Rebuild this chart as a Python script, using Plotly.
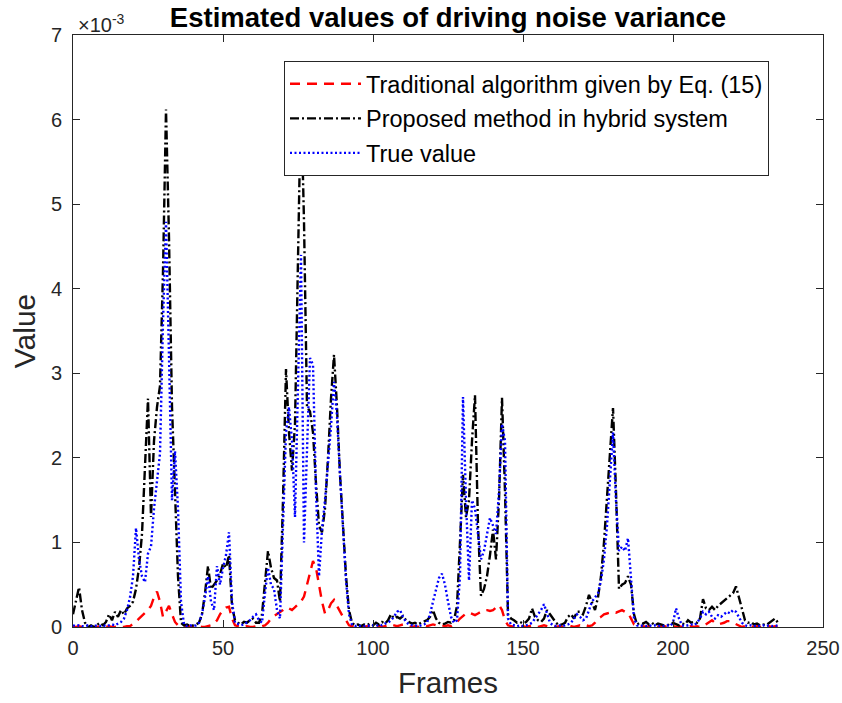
import plotly.graph_objects as go

# Values are in units of 1e-3 (axis shows x10^-3)
proposed = [0.15, 0.3, 0.47, 0.2, 0.05, 0.0, 0.02, 0.0, 0.03, 0.05,
            0.02, 0.06, 0.15, 0.08, 0.18, 0.12, 0.2, 0.15, 0.22, 0.25,
            0.3, 0.45, 0.7, 1.1, 1.9, 2.7, 1.3, 2.2, 2.6, 2.85,
            4.2, 6.12, 4.6, 2.6, 1.6, 0.6, 0.05, 0.02, 0.03, 0.01,
            0.02, 0.03, 0.05, 0.15, 0.4, 0.72, 0.45, 0.5, 0.55, 0.62,
            0.75, 0.7, 0.85, 0.25, 0.08, 0.05, 0.03, 0.06, 0.05, 0.08,
            0.1, 0.05, 0.05, 0.15, 0.55, 0.9, 0.7, 0.58, 0.55, 0.3,
            1.5, 3.05, 2.3, 1.85, 2.4, 4.6, 6.3, 4.8, 2.6, 2.55,
            2.3, 1.7, 1.2, 1.12, 1.4, 2.0, 2.7, 3.22, 2.6, 1.8,
            1.15, 0.6, 0.2, 0.05, 0.02, 0.03, 0.01, 0.03, 0.02, 0.04,
            0.02, 0.05, 0.03, 0.06, 0.04, 0.08, 0.15, 0.1, 0.12, 0.1,
            0.13, 0.08, 0.06, 0.04, 0.05, 0.03, 0.05, 0.07, 0.08, 0.12,
            0.2, 0.1, 0.05, 0.03, 0.04, 0.06, 0.05, 0.08, 0.25, 1.0,
            1.8, 1.3, 1.5, 2.2, 2.74, 1.2, 0.37, 0.45, 0.6, 0.85,
            1.15, 0.8, 1.5, 2.71, 1.6, 0.15, 0.1, 0.08, 0.05, 0.06,
            0.04, 0.06, 0.1, 0.22, 0.12, 0.08, 0.06, 0.1, 0.2, 0.15,
            0.1, 0.05, 0.02, 0.03, 0.05, 0.12, 0.15, 0.1, 0.18, 0.18,
            0.15, 0.25, 0.38, 0.3, 0.2, 0.35, 0.6, 1.0, 1.5, 2.0,
            2.59, 1.6, 0.45, 0.5, 0.52, 0.6, 0.5, 0.15, 0.03, 0.05,
            0.04, 0.06, 0.03, 0.05, 0.02, 0.04, 0.03, 0.02, 0.03, 0.02,
            0.05, 0.03, 0.02, 0.04, 0.03, 0.08, 0.05, 0.06, 0.05, 0.1,
            0.33, 0.22, 0.2, 0.24, 0.2, 0.25, 0.28, 0.3, 0.33, 0.36,
            0.4, 0.48, 0.35, 0.2, 0.08, 0.05, 0.06, 0.03, 0.04, 0.02,
            0.03, 0.02, 0.05, 0.08, 0.1, 0.05]

true_value = [0.02, 0.01, 0.02, 0.01, 0.01, 0.02, 0.01, 0.01, 0.02, 0.01,
              0.02, 0.01, 0.02, 0.03, 0.02, 0.04, 0.06, 0.1, 0.2, 0.35,
              0.6, 1.17, 0.8, 0.6, 0.53, 0.87, 0.95, 1.4, 1.7, 2.05,
              3.6, 4.79, 3.2, 1.5, 2.08, 1.4, 0.3, 0.03, 0.01, 0.02,
              0.01, 0.02, 0.05, 0.15, 0.35, 0.6, 0.3, 0.2, 0.72, 0.5,
              0.7, 0.85, 1.12, 0.3, 0.05, 0.03, 0.02, 0.03, 0.05, 0.08,
              0.12, 0.15, 0.08, 0.05, 0.4, 0.7, 0.5, 0.45, 0.2, 0.1,
              1.2, 2.3, 2.6, 2.2, 1.3, 3.0, 4.4, 1.0, 2.0, 3.18,
              3.1, 1.6, 0.6, 1.15, 1.5, 1.9, 2.37, 2.9, 2.5, 1.8,
              1.1, 0.55, 0.15, 0.03, 0.01, 0.02, 0.01, 0.01, 0.02, 0.01,
              0.02, 0.01, 0.03, 0.02, 0.04, 0.05, 0.08, 0.12, 0.18, 0.2,
              0.12, 0.06, 0.03, 0.02, 0.02, 0.01, 0.02, 0.03, 0.05, 0.15,
              0.3, 0.45, 0.58, 0.63, 0.5, 0.3, 0.12, 0.05, 0.08, 0.6,
              2.72, 1.5, 0.55, 1.5, 1.4, 1.1, 0.8, 0.9, 1.1, 1.29,
              1.2, 1.1, 1.6, 2.4, 2.2, 0.1, 0.03, 0.02, 0.01, 0.02,
              0.01, 0.02, 0.03, 0.05, 0.1, 0.15, 0.2, 0.27, 0.15, 0.05,
              0.02, 0.01, 0.02, 0.01, 0.02, 0.03, 0.05, 0.1, 0.15, 0.12,
              0.08, 0.1, 0.2, 0.3, 0.35, 0.4, 0.55, 0.8, 1.2, 1.8,
              2.3, 1.5, 0.9, 0.95, 0.9, 1.05, 0.6, 0.1, 0.02, 0.01,
              0.02, 0.01, 0.02, 0.01, 0.02, 0.01, 0.02, 0.01, 0.02, 0.01,
              0.05, 0.22, 0.1, 0.02, 0.01, 0.02, 0.03, 0.02, 0.05, 0.1,
              0.18, 0.15, 0.18, 0.12, 0.1, 0.14, 0.12, 0.15, 0.18, 0.16,
              0.2, 0.18, 0.12, 0.05, 0.02, 0.01, 0.02, 0.01, 0.02, 0.01,
              0.02, 0.01, 0.02, 0.01, 0.02, 0.01]

traditional = [0.0, 0.0, 0.01, 0.0, 0.0, 0.01, 0.0, 0.0, 0.0, 0.01,
               0.0, 0.0, 0.01, 0.0, 0.0, 0.01, 0.0, 0.0, 0.01, 0.01,
               0.03, 0.06, 0.1, 0.13, 0.17, 0.2, 0.25, 0.35, 0.42, 0.3,
               0.12, 0.18, 0.25, 0.15, 0.06, 0.02, 0.01, 0.0, 0.0, 0.01,
               0.0, 0.0, 0.01, 0.0, 0.0, 0.01, 0.02, 0.04, 0.08, 0.15,
               0.2, 0.23, 0.24, 0.1, 0.02, 0.01, 0.0, 0.0, 0.01, 0.0,
               0.0, 0.01, 0.0, 0.01, 0.02, 0.05, 0.1, 0.13, 0.15, 0.18,
               0.2, 0.23, 0.22, 0.2, 0.23, 0.27, 0.3, 0.36, 0.5, 0.65,
               0.78, 0.7, 0.5, 0.3, 0.16, 0.2, 0.28, 0.32, 0.25, 0.18,
               0.12, 0.08, 0.02, 0.01, 0.0, 0.01, 0.0, 0.0, 0.01, 0.0,
               0.01, 0.02, 0.01, 0.0, 0.01, 0.02, 0.03, 0.02, 0.01, 0.02,
               0.03, 0.02, 0.01, 0.0, 0.01, 0.0, 0.01, 0.02, 0.01, 0.02,
               0.03, 0.02, 0.01, 0.02, 0.01, 0.02, 0.01, 0.04, 0.06, 0.1,
               0.13, 0.16, 0.17, 0.15, 0.14, 0.16, 0.18, 0.2, 0.2, 0.19,
               0.2, 0.23, 0.26, 0.2, 0.08, 0.02, 0.01, 0.0, 0.01, 0.0,
               0.01, 0.0, 0.01, 0.02, 0.01, 0.0, 0.01, 0.02, 0.01, 0.0,
               0.01, 0.0, 0.01, 0.0, 0.01, 0.02, 0.01, 0.0, 0.01, 0.02,
               0.01, 0.02, 0.01, 0.02, 0.05, 0.1, 0.12, 0.15, 0.16, 0.17,
               0.18, 0.17, 0.19, 0.2, 0.18, 0.17, 0.1, 0.03, 0.01, 0.0,
               0.01, 0.0, 0.01, 0.0, 0.01, 0.0, 0.01, 0.0, 0.01, 0.0,
               0.01, 0.0, 0.01, 0.0, 0.01, 0.0, 0.01, 0.0, 0.01, 0.0,
               0.01, 0.03, 0.06, 0.08, 0.05, 0.03, 0.04, 0.05, 0.07, 0.07,
               0.05, 0.03, 0.01, 0.0, 0.01, 0.0, 0.01, 0.0, 0.01, 0.0,
               0.01, 0.0, 0.01, 0.0, 0.01, 0.0]

x_ticks = [0, 50, 100, 150, 200, 250]
y_ticks = [0, 1, 2, 3, 4, 5, 6, 7]
SCALE = 1e-3

frames_t = list(range(len(traditional)))
frames_p = list(range(len(proposed)))
frames_v = list(range(len(true_value)))

FONT = "Liberation Sans, Arial, Helvetica, sans-serif"
AX = "#262626"

fig = go.Figure()
fig.add_trace(go.Scatter(
    x=frames_t, y=[v * SCALE for v in traditional], mode="lines",
    name="Traditional algorithm given by Eq. (15)", legendgroup="a",
    line=dict(color="#ff0000", width=2.4, dash="10px,7px")))
fig.add_trace(go.Scatter(
    x=frames_p, y=[v * SCALE for v in proposed], mode="lines",
    name="Proposed method in hybrid system", legendgroup="b",
    line=dict(color="#000000", width=2.4, dash="9px,3px,2px,3px")))
fig.add_trace(go.Scatter(
    x=frames_v, y=[v * SCALE for v in true_value], mode="lines",
    name="True value", legendgroup="c",
    line=dict(color="#0000ff", width=2.4, dash="2px,2.5px")))

fig.update_layout(
    width=842, height=703,
    margin=dict(l=73, r=19, t=35, b=76),
    paper_bgcolor="white", plot_bgcolor="white",
    font=dict(family=FONT, color=AX, size=20),
    title=dict(text="<b>Estimated values of driving noise variance</b>",
               x=448 / 842, xanchor="center",
               y=1 - 17 / 703, yanchor="middle",
               font=dict(size=27.5, color="#000000", family=FONT)),
    showlegend=True,
    legend=dict(x=(284 - 73) / 750, xanchor="left",
                y=(627 - 61) / 592, yanchor="top",
                bgcolor="white", bordercolor=AX, borderwidth=1,
                font=dict(size=23.5, color="#000000", family=FONT),
                traceorder="grouped", tracegroupgap=1, itemwidth=71),
    xaxis=dict(range=[0, 250], tickvals=x_ticks,
               ticktext=[str(t) for t in x_ticks],
               ticks="inside", ticklen=7, tickcolor=AX,
               showline=True, linecolor=AX, linewidth=1, mirror="ticks",
               showgrid=False, zeroline=False, ticklabelstandoff=3,
               automargin=False,
               tickfont=dict(size=20, color=AX),
               title=dict(text="Frames", font=dict(size=29.5, color=AX),
                          standoff=14)),
    yaxis=dict(range=[0, 7 * SCALE], tickvals=[t * SCALE for t in y_ticks],
               ticktext=[str(t) for t in y_ticks],
               ticks="inside", ticklen=7, tickcolor=AX,
               showline=True, linecolor=AX, linewidth=1, mirror="ticks",
               showgrid=False, zeroline=False, ticklabelstandoff=6,
               automargin=False,
               tickfont=dict(size=20, color=AX),
               title=dict(text="Value", font=dict(size=30, color=AX),
                          standoff=6)),
    annotations=[dict(text="×10<sup>-3</sup>", xref="paper", yref="paper",
                      x=0, y=1, xanchor="left", yanchor="bottom",
                      xshift=3, yshift=-3, showarrow=False,
                      font=dict(size=20, color=AX, family=FONT))],
)

fig.write_html("out.html")
